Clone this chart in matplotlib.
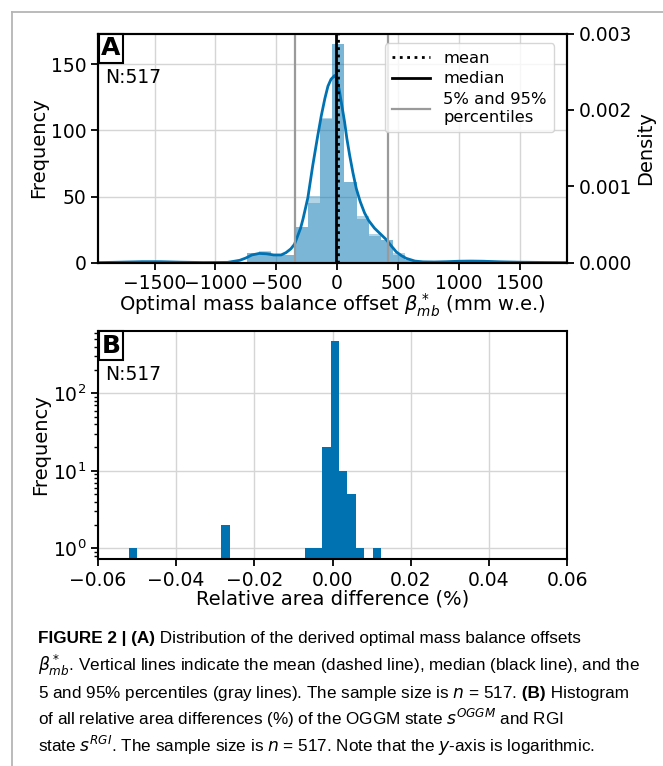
import numpy as np
import matplotlib
matplotlib.use("Agg")
import matplotlib.pyplot as plt
from matplotlib.lines import Line2D
from matplotlib.ticker import FuncFormatter

plt.rcParams['font.family'] = ['DejaVu Sans']
plt.rcParams['mathtext.fontset'] = 'dejavusans'

blue = '#0072B2'
W, H = 663, 766

# ---- panel A: optimal mass balance offsets (mm w.e.) ----
offset_lo, offset_hi, offset_nbins = -1840, 1660, 35
offset_counts = [0, 0, 1, 1, 0, 0, 0, 0, 0, 0, 0,
                 7, 8, 6, 6, 27, 45, 109, 165, 61, 33, 20, 17, 6, 2, 1,
                 0, 0, 0, 1, 1, 0, 0, 0, 0]
offset_density = [0, 0, 1.7e-5, 1.7e-5, 0, 0, 0, 0, 0, 0, 0,
                  1.21e-4, 1.56e-4, 1.04e-4, 1.04e-4, 4.67e-4, 8.66e-4,
                  1.887e-3, 2.857e-3, 1.056e-3, 6.06e-4, 3.81e-4, 2.94e-4,
                  1.21e-4, 3.5e-5, 1.7e-5, 0, 0, 0, 1.7e-5, 1.7e-5, 0, 0, 0, 0]
kde_x = [-1965, -1800, -1600, -1450, -1300, -1100, -900, -800, -750, -700,
         -640, -580, -520, -460, -420, -380, -350, -300, -280, -240, -200,
         -160, -130, -100, -75, -50, -20, 0, 20, 40, 62, 80, 103, 130, 158,
         190, 226, 260, 308, 360, 405, 445, 487, 530, 568, 640, 706, 800,
         900, 1000, 1100, 1200, 1350, 1500, 1700, 1890]
kde_y = [0, 5e-6, 1.2e-5, 1.2e-5, 6e-6, 1e-6, 3e-6, 3e-5, 6e-5, 1.0e-4,
         1.2e-4, 1.15e-4, 1.0e-4, 1.0e-4, 1.3e-4, 1.8e-4, 2.4e-4, 4.5e-4,
         5.7e-4, 8.5e-4, 1.27e-3, 1.65e-3, 1.92e-3, 2.15e-3, 2.31e-3, 2.40e-3,
         2.45e-3, 2.40e-3, 2.24e-3, 2.05e-3, 1.84e-3, 1.63e-3, 1.41e-3,
         1.18e-3, 9.7e-4, 8.0e-4, 6.5e-4, 5.5e-4, 4.5e-4, 3.7e-4, 3.0e-4,
         2.2e-4, 1.4e-4, 9e-5, 5.6e-5, 2e-5, 1e-5, 8e-6, 1.2e-5, 1.8e-5,
         2e-5, 1.8e-5, 1e-5, 5e-6, 2e-6, 0]
offset_mean = 5
offset_median = -12
offset_p05, offset_p95 = -344, 418

# ---- panel B: relative area difference (%) ----
area_lo, area_hi, area_nbins = -0.0521, 0.0124, 30
area_counts = [1, 0, 0, 0, 0, 0, 0, 0, 0, 0, 0, 2, 0, 0, 0, 0, 0, 0, 0, 0,
               0, 1, 1, 20, 475, 10, 5, 1, 0, 1]
n_glaciers = 517


def minus_fmt(fmt):
    return FuncFormatter(lambda v, p: (fmt % v).replace('-', '\u2212'))


fig = plt.figure(figsize=(W / 100, H / 100), dpi=100)

# frame around the figure
fig.add_artist(Line2D([12 / W, 1], [1 - 12 / H, 1 - 12 / H],
                      transform=fig.transFigure, color='#b5b5b5', lw=1.3))
fig.add_artist(Line2D([12 / W, 12 / W], [0, 1 - 12 / H],
                      transform=fig.transFigure, color='#b5b5b5', lw=1.3))

left = 98 / W
width = (567 - 98) / W
ax1 = fig.add_axes([left, 1 - 262.6 / H, width, (262.6 - 33.5) / H])
ax2 = ax1.twinx()
ax3 = fig.add_axes([left, 1 - 558.7 / H, width, (558.7 - 331) / H])

offset_edges = np.linspace(offset_lo, offset_hi, offset_nbins + 1)
centers = (offset_edges[:-1] + offset_edges[1:]) / 2

ax1.set_axisbelow(True)
ax1.grid(True, color='#d5d5d5', lw=1)
ax1.hist(centers, bins=offset_edges, weights=offset_counts,
         color=blue, alpha=0.3)
ax2.hist(centers, bins=offset_edges, weights=offset_density,
         color=blue, alpha=0.3)
ax2.plot(kde_x, kde_y, color=blue, lw=2)

ax2.axvline(offset_p05, color='#9a9a9a', lw=1.6)
ax2.axvline(offset_p95, color='#9a9a9a', lw=1.6)
ax2.axvline(offset_median, color='black', lw=2)
ax2.axvline(offset_mean, color='black', lw=2, ls=':')

ax1.set_xlim(-1965, 1890)
ax1.set_ylim(0, 173.3)
ax2.set_ylim(0, 0.003)
ax1.set_xticks([-1500, -1000, -500, 0, 500, 1000, 1500])
ax1.set_yticks([0, 50, 100, 150])
ax2.set_yticks([0, 0.001, 0.002, 0.003])
ax2.yaxis.set_major_formatter(minus_fmt('%.3f'))

ax1.set_ylabel('Frequency', fontsize=14, labelpad=2)
ax2.set_ylabel('Density', fontsize=14, labelpad=3)
ax1.set_xlabel(r'Optimal mass balance offset $\beta^*_{mb}$ (mm w.e.)',
               fontsize=14, labelpad=-1)

handles = [Line2D([], [], color='black', lw=2, ls=':'),
           Line2D([], [], color='black', lw=2),
           Line2D([], [], color='#9a9a9a', lw=1.6)]
ax2.legend(handles, ['mean', 'median', '5% and 95%\npercentiles'],
           loc='upper right', fontsize=11.8, handlelength=2.3,
           borderpad=0.45, labelspacing=0.35, bbox_to_anchor=(0.99, 0.993))

# ---- panel B ----
area_edges = np.linspace(area_lo, area_hi, area_nbins + 1)
area_centers = (area_edges[:-1] + area_edges[1:]) / 2
ax3.set_axisbelow(True)
ax3.grid(True, color='#d5d5d5', lw=1)
ax3.hist(area_centers, bins=area_edges, weights=area_counts,
         color=blue, log=True)
ax3.set_xlim(-0.06, 0.06)
ax3.set_ylim(0.734, 637)
ax3.set_xticks([-0.06, -0.04, -0.02, 0.0, 0.02, 0.04, 0.06])
ax3.xaxis.set_major_formatter(minus_fmt('%.2f'))
ax3.set_ylabel('Frequency', fontsize=14, labelpad=2)
ax3.set_xlabel('Relative area difference (%)', fontsize=14, labelpad=0)

for ax in (ax1, ax2, ax3):
    for sp in ax.spines.values():
        sp.set_linewidth(1.5)
    ax.tick_params(labelsize=13.5, width=1.3, length=5)
ax3.tick_params(which='minor', width=1, length=3)

for ax, letter in ((ax1, 'A'), (ax3, 'B')):
    ax.text(0.007, 0.988, letter, transform=ax.transAxes, fontsize=18,
            fontweight='bold', va='top', ha='left',
            bbox=dict(facecolor='white', edgecolor='black', lw=1.5,
                      pad=1.8))
    ax.text(0.016, 0.81, 'N:%d' % n_glaciers, transform=ax.transAxes,
            fontsize=13.5, va='center', ha='left')

# ---- caption ----
cap_font = ['Liberation Sans', 'DejaVu Sans']
cap_size = 12.3

caption = [
    [('FIGURE 2 | (A)', 'bold'),
     (' Distribution of the derived optimal mass balance offsets', 'normal')],
    [(r'$\beta^*_{mb}$. Vertical lines indicate the mean (dashed line), '
      r'median (black line), and the', 'normal')],
    [('5 and 95% percentiles (gray lines). The sample size is $n$ = 517.',
      'normal'), (' (B)', 'bold'), (' Histogram', 'normal')],
    [('of all relative area differences (%) of the OGGM state '
      '$s^{OGGM}$ and RGI', 'normal')],
    [('state $s^{RGI}$. The sample size is $n$ = 517. Note that the '
      '$y$-axis is logarithmic.', 'normal')],
]
baselines = [643, 671, 698, 725, 752]

renderer = fig.canvas.get_renderer()
for runs, yb in zip(caption, baselines):
    x = 38
    for s, weight in runs:
        t = fig.text(x / W, 1 - yb / H, s, fontsize=cap_size,
                     fontweight=weight, family=cap_font, va='baseline',
                     ha='left')
        x += t.get_window_extent(renderer).width

fig.savefig('out.png', dpi=100)
